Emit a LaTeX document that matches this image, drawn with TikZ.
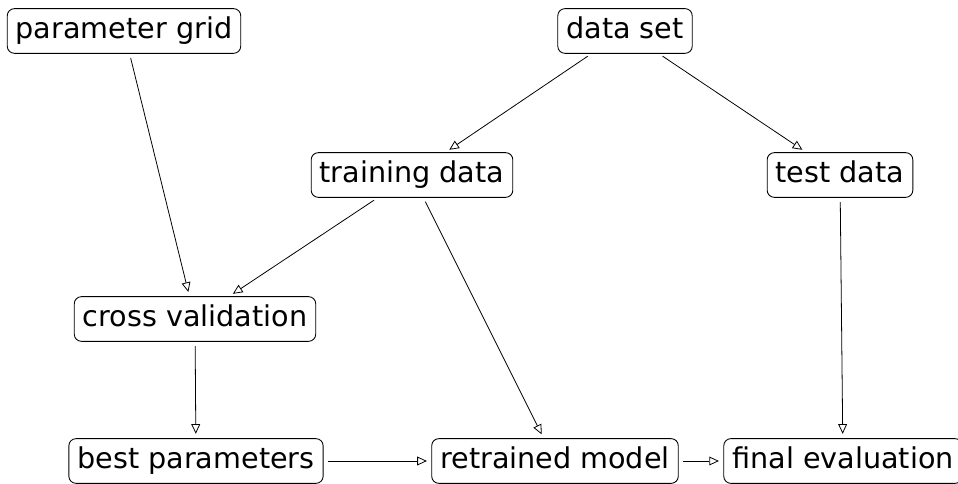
\documentclass[tikz,border=0pt]{standalone}
\usepackage{fontspec}
\setmainfont{DejaVu Sans}
\usetikzlibrary{arrows.meta}

\begin{document}
\begin{tikzpicture}[box/.style={draw, rounded corners=4pt, line width=0.5pt, inner xsep=0.17cm, inner ysep=5.2pt, text height=11.8pt, text depth=3.2pt, font=\fontsize{16.3}{19}\selectfont},
  flow/.style={-{Triangle[open,length=5.5pt,width=5pt]}, line width=0.45pt, shorten >=2.5pt, shorten <=2.5pt}]
\useasboundingbox (0,0) rectangle (19.16,-9.68);
\node [box] (grid) at (2.48,-0.62) {parameter grid};
\node [box] (data) at (12.5,-0.62) {data set};
\node [box] (train) at (8.24,-3.5) {training data};
\node [box] (test) at (16.8,-3.5) {test data};
\node [box] (cv) at (3.9,-6.38) {cross validation};
\node [box] (best) at (3.92,-9.22) {best parameters};
\node [box] (model) at (11.1,-9.22) {retrained model};
\node [box] (eval) at (16.86,-9.22) {final evaluation};
\draw [flow] (grid) -- (cv);
\draw [flow] (data) -- (train);
\draw [flow] (data) -- (test);
\draw [flow] (train) -- (cv);
\draw [flow] (train) -- (model);
\draw [flow] (cv) -- (best);
\draw [flow] (test) -- (eval);
\draw [flow] (best) -- (model);
\draw [flow] (model) -- (eval);
\end{tikzpicture}
\end{document}
